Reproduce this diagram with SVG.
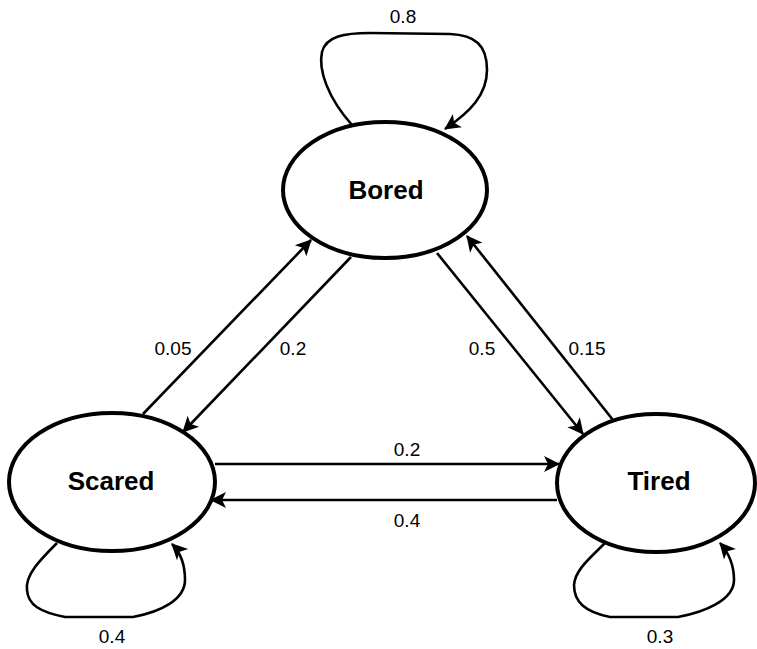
<svg xmlns="http://www.w3.org/2000/svg" width="757" height="649" viewBox="0 0 757 649">
  <style>
    .state { fill: #ffffff; stroke: #000000; stroke-width: 4; }
    .name { font-family: "Liberation Sans", Arial, sans-serif; font-size: 26px; font-weight: bold; text-anchor: middle; fill: #000000; }
    .edge { fill: none; stroke: #000000; stroke-width: 2.6; marker-end: url(#arrow); }
    .prob { font-family: "Liberation Sans", Arial, sans-serif; font-size: 19px; text-anchor: middle; fill: #000000; }
  </style>
  <defs>
    <marker id="arrow" markerUnits="userSpaceOnUse" markerWidth="18" markerHeight="18" viewBox="0 0 18 18" refX="16" refY="9" orient="auto">
      <path d="M1,1 L17,9 L1,17 L5,9 z" fill="#000000"/>
    </marker>
  </defs>

  <rect width="757" height="649" fill="#ffffff"/>

  <g id="connectors">
    <!-- self loops -->
    <path class="edge" d="M352,125 C328,98 318,70 322,52 C326,36 345,33 370,33 L450,34 C475,35 487,45 487,70 C487,95 470,112 445,129"/>
    <path class="edge" d="M57,543 C40,560 25,575 27,590 C28,605 40,612 65,617 L133,617 C160,612 185,600 185,580 C185,565 180,552 172,544"/>
    <path class="edge" d="M605,543 C590,558 575,570 574,585 C574,602 585,612 610,617 L678,617 C705,612 734,600 734,580 C734,565 728,552 720,543"/>

    <!-- Scared <-> Bored -->
    <path class="edge" d="M143,414 L311,240"/>
    <path class="edge" d="M351,257 L183,432"/>
    <!-- Bored <-> Tired -->
    <path class="edge" d="M437,253 L583,434"/>
    <path class="edge" d="M613,420 L467,236"/>
    <!-- Scared <-> Tired -->
    <path class="edge" d="M215,464 L559,464"/>
    <path class="edge" d="M557,500 L211,500"/>

    <text class="prob" x="403" y="23">0.8</text>
    <text class="prob" x="112" y="643">0.4</text>
    <text class="prob" x="660" y="643">0.3</text>
    <text class="prob" x="173" y="355">0.05</text>
    <text class="prob" x="293" y="355">0.2</text>
    <text class="prob" x="482" y="355">0.5</text>
    <text class="prob" x="587" y="355">0.15</text>
    <text class="prob" x="407" y="456">0.2</text>
    <text class="prob" x="407" y="527">0.4</text>
  </g>

  <g id="bored">
    <ellipse class="state" cx="385" cy="190" rx="102" ry="68"/>
    <text class="name" x="386" y="199">Bored</text>
  </g>
  <g id="scared">
    <ellipse class="state" cx="112" cy="482" rx="103" ry="69"/>
    <text class="name" x="111" y="490">Scared</text>
  </g>
  <g id="tired">
    <ellipse class="state" cx="656" cy="483" rx="99" ry="69"/>
    <text class="name" x="659" y="490">Tired</text>
  </g>
</svg>
